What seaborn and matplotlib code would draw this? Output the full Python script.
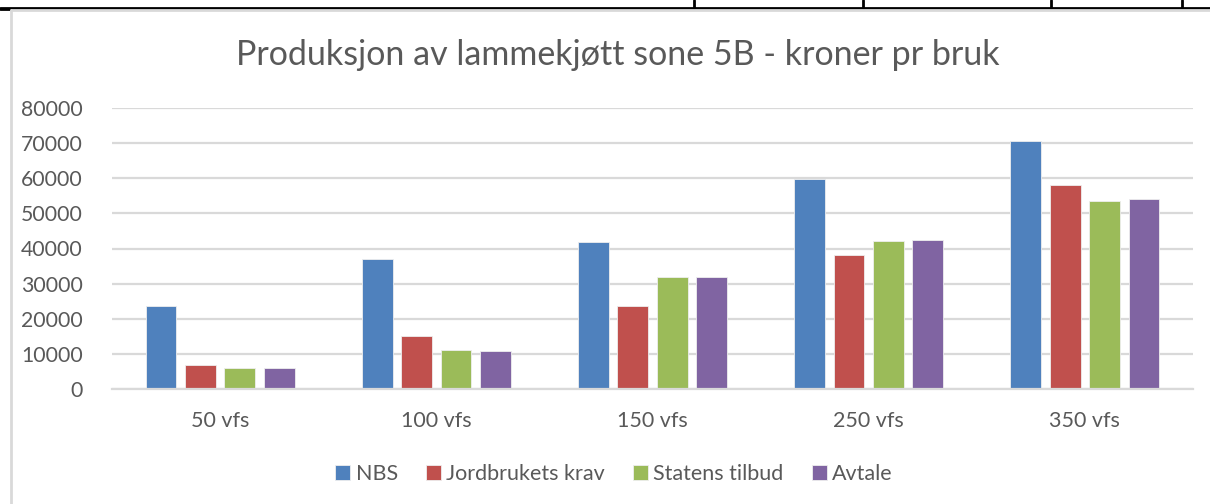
import pandas as pd
import seaborn as sns
import matplotlib.pyplot as plt
from matplotlib.lines import Line2D

categories = ["50 vfs", "100 vfs", "150 vfs", "250 vfs", "350 vfs"]
series = ["NBS", "Jordbrukets krav", "Statens tilbud", "Avtale"]
nbs = [23600, 37000, 41800, 59700, 70600]
jordbruket = [6800, 15100, 23500, 38100, 58200]
staten = [6000, 11100, 31900, 42100, 53500]
avtale = [6000, 10800, 31900, 42500, 54100]
colors = ["#4F81BD", "#C0504D", "#9BBB59", "#8064A2"]
yticks = [0, 10000, 20000, 30000, 40000, 50000, 60000, 70000, 80000]

rows = []
for name, vals in zip(series, [nbs, jordbruket, staten, avtale]):
    for cat, v in zip(categories, vals):
        rows.append({"kategori": cat, "serie": name, "kroner": v})
df = pd.DataFrame(rows)

sns.set_style("white")
plt.rcParams["font.family"] = ["Lato", "DejaVu Sans"]

fig = plt.figure(figsize=(12.1, 5.04), dpi=100)
ax = fig.add_axes([112 / 1210, 1 - 389 / 504, (1193 - 112) / 1210, (389 - 108) / 504])

sns.barplot(data=df, x="kategori", y="kroner", hue="serie", order=categories,
            hue_order=series, palette=colors, saturation=1, width=0.73, gap=0.22,
            edgecolor="#eeeeee", linewidth=0.6, ax=ax, legend=True)

ax.set_ylim(0, 80000)
ax.set_xlim(-0.5, len(categories) - 0.5)
ax.set_yticks(yticks)
ax.set_yticklabels([str(t) for t in yticks])
ax.yaxis.grid(True, color="#d9d9d9", linewidth=1.6)
ax.set_axisbelow(True)
for s in ["top", "right", "left"]:
    ax.spines[s].set_visible(False)
ax.spines["bottom"].set_color("#d9d9d9")
ax.spines["bottom"].set_linewidth(1.6)
ax.set_xlabel("")
ax.set_ylabel("")
ax.tick_params(axis="y", length=0, pad=21, labelsize=15.3, labelcolor="#595959")
ax.tick_params(axis="x", length=0, pad=16, labelsize=15.5, labelcolor="#595959")

fig.text(618 / 1210, 1 - 55 / 504, "Produksjon av lammekjøtt sone 5B - kroner pr bruk",
         ha="center", va="center", fontsize=24.5, color="#595959")

handles, labels = ax.get_legend_handles_labels()
ax.legend(handles, labels, loc="center", bbox_to_anchor=(614 / 1210, 1 - 474 / 504),
          bbox_transform=fig.transFigure, ncol=4, frameon=False,
          handlelength=0.7, handleheight=0.7, handletextpad=0.25,
          columnspacing=1.3, fontsize=15.5, labelcolor="#595959")

# spreadsheet border around the pasted chart
fig.add_artist(Line2D([0, 1], [1 - 7.5 / 504] * 2, color="black", lw=2))
for xp in [694, 863, 1051, 1182]:
    fig.add_artist(Line2D([xp / 1210] * 2, [1, 1 - 7.5 / 504], color="black", lw=2))
fig.add_artist(Line2D([0, 10 / 1210], [1 - 9 / 504] * 2, color="black", lw=2))
fig.add_artist(Line2D([11 / 1210, 1], [1 - 10 / 504] * 2, color="#d9d9d9", lw=2))
fig.add_artist(Line2D([11 / 1210] * 2, [0, 1 - 10 / 504], color="#d9d9d9", lw=2))
fig.text(150 / 1210, 1 + 8 / 504, "g", ha="left", va="baseline", fontsize=14, color="black")

fig.savefig("out.png", dpi=100)
